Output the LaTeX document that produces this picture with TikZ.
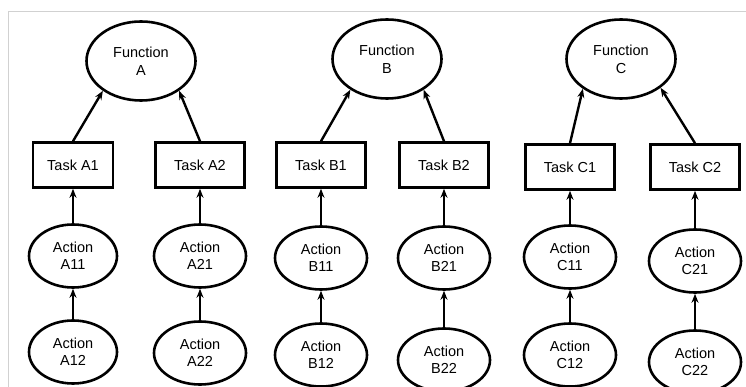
\documentclass[tikz,border=0pt]{standalone}
\usepackage{fontspec}
\setmainfont{Liberation Sans}
\usetikzlibrary{shapes.geometric,arrows.meta}

\begin{document}
\begin{tikzpicture}[
    x=1pt, y=-1pt,
    func/.style={ellipse, draw=black, line width=2.6pt, minimum width=109pt, minimum height=79pt, inner sep=0pt, align=center, font=\fontsize{14.5}{18}\selectfont},
    task/.style={rectangle, draw=black, line width=2.6pt, minimum width=89pt, minimum height=45pt, align=center, font=\fontsize{14.5}{17}\selectfont},
    action/.style={ellipse, draw=black, line width=2.6pt, minimum width=92pt, minimum height=63pt, inner sep=0pt, align=center, font=\fontsize{14.5}{17}\selectfont},
    arrow/.style={-{Stealth[length=9pt,width=7pt]}, line width=2.4pt, black}
]

\useasboundingbox (0,0) rectangle (746,387);
% Frame
\draw[black!18, line width=0.8pt] (8,387) -- (8,11) -- (746,11);

% Functions
\node[func] (fA) at (141,61) {Function\\A};
\node[func] (fB) at (387,59) {Function\\B};
\node[func] (fC) at (621,59) {Function\\C};

% Tasks
\node[task, minimum width=80pt] (tA1) at (73,165) {Task A1};
\node[task] (tA2) at (200,165) {Task A2};
\node[task] (tB1) at (321,165) {Task B1};
\node[task] (tB2) at (444,165) {Task B2};
\node[task] (tC1) at (570,167) {Task C1};
\node[task] (tC2) at (695,167) {Task C2};

% Actions
\node[action, minimum width=88pt] (aA11) at (73,256) {Action\\A11};
\node[action, minimum width=88pt] (aA12) at (73,352) {Action\\A12};
\node[action] (aA21) at (200,256) {Action\\A21};
\node[action] (aA22) at (200,353) {Action\\A22};
\node[action] (aB11) at (321,258) {Action\\B11};
\node[action] (aB12) at (321,355) {Action\\B12};
\node[action] (aB21) at (444,258) {Action\\B21};
\node[action] (aB22) at (444,360) {Action\\B22};
\node[action] (aC11) at (570,257) {Action\\C11};
\node[action] (aC12) at (570,355) {Action\\C12};
\node[action] (aC21) at (695,261) {Action\\C21};
\node[action] (aC22) at (695,362) {Action\\C22};

% Arrows
\draw[arrow] (tA1.north) -- (fA.218);
\draw[arrow] (tA2.north) -- (fA.322);
\draw[arrow] (tB1.north) -- (fB.220);
\draw[arrow] (tB2.north) -- (fB.320);
\draw[arrow] (tC1.north) -- (fC.218);
\draw[arrow] (tC2.north) -- (fC.324);
\draw[arrow] (aA11) -- (tA1);
\draw[arrow] (aA21) -- (tA2);
\draw[arrow] (aB11) -- (tB1);
\draw[arrow] (aB21) -- (tB2);
\draw[arrow] (aC11) -- (tC1);
\draw[arrow] (aC21) -- (tC2);
\draw[arrow] (aA12) -- (aA11);
\draw[arrow] (aA22) -- (aA21);
\draw[arrow] (aB12) -- (aB11);
\draw[arrow] (aB22) -- (aB21);
\draw[arrow] (aC12) -- (aC11);
\draw[arrow] (aC22) -- (aC21);

\end{tikzpicture}
\end{document}
